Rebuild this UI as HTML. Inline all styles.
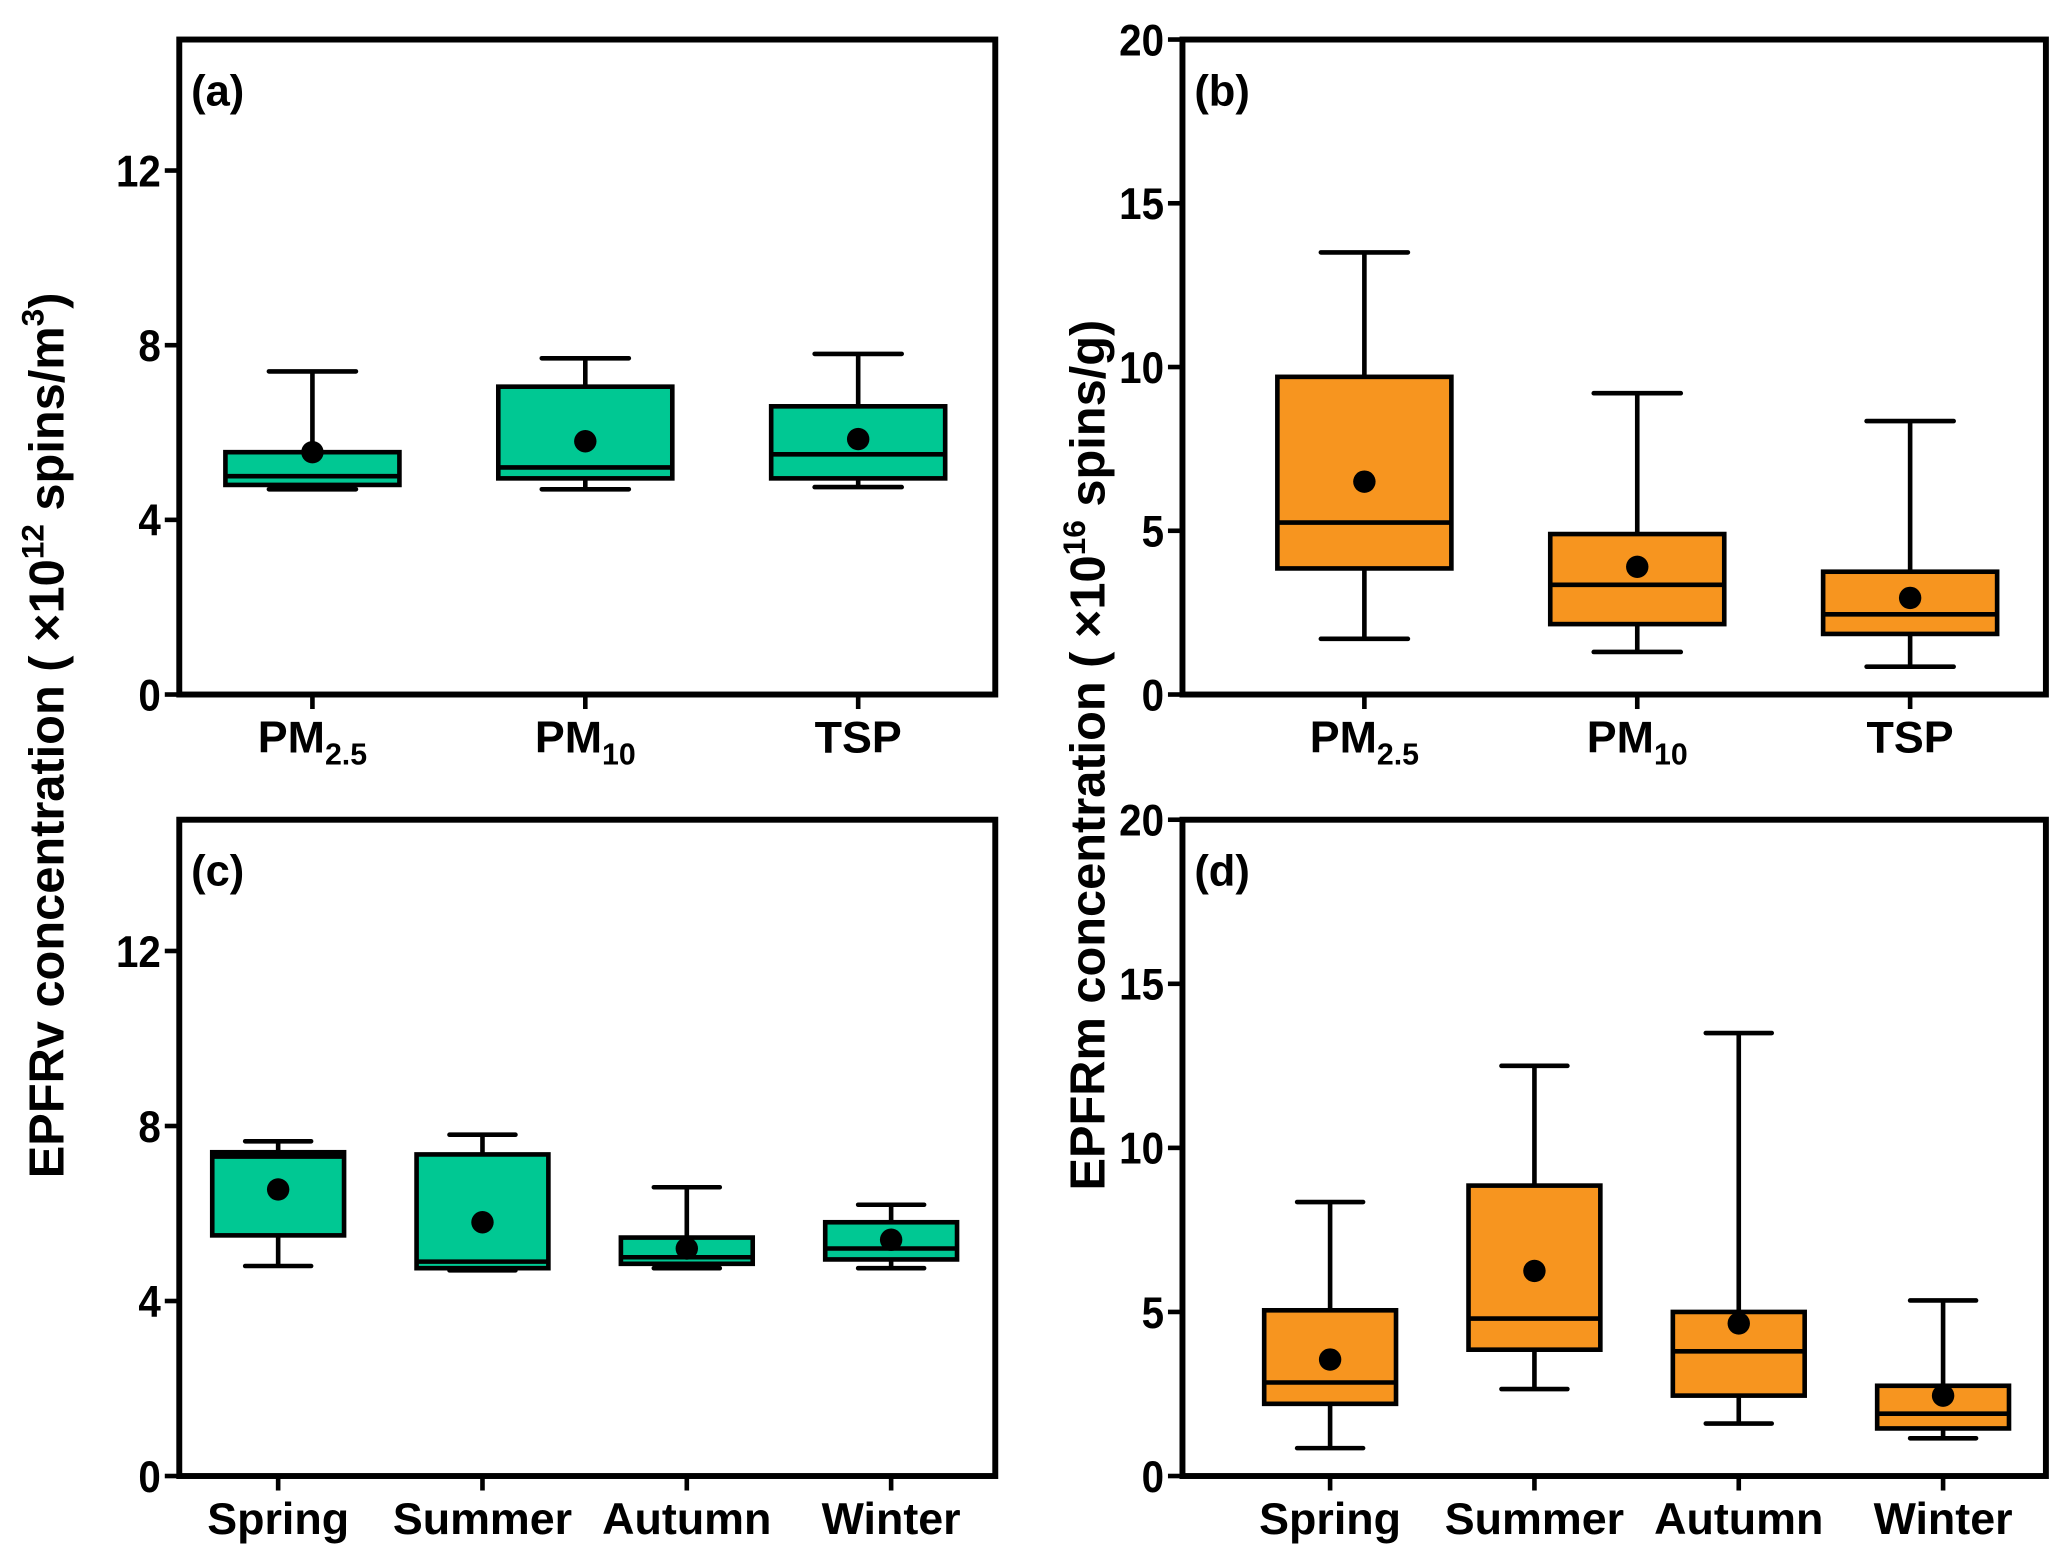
<!DOCTYPE html>
<html><head><meta charset="utf-8"><style>
html,body{margin:0;padding:0;background:#fff;}
svg{display:block;}
text{font-family:"Liberation Sans",sans-serif;font-weight:bold;fill:#000;}
.tk{font-size:34px;}
.cat{font-size:34px;}
.plab{font-size:33px;}
.yt{font-size:37px;}
</style></head><body>
<svg id="fig" width="2067" height="1563" viewBox="0 0 1568 1186" preserveAspectRatio="none" xmlns="http://www.w3.org/2000/svg">
<text class="yt" transform="translate(48,558) rotate(-90)" text-anchor="middle">EPFRv concentration ( ×10<tspan dy="-15" font-size="24">12</tspan><tspan dy="15"> spins/m</tspan><tspan dy="-15" font-size="24">3</tspan><tspan dy="15">)</tspan></text>
<text class="yt" transform="translate(838,573) rotate(-90)" text-anchor="middle">EPFRm concentration ( ×10<tspan dy="-15" font-size="24">16</tspan><tspan dy="15"> spins/g)</tspan></text>
</svg>
<script>
// Panel (a): EPFRv by particle size
const catsA = ["PM2.5","PM10","TSP"];
const lowA = [4.7,4.7,4.75];
const q1A = [4.8,4.95,4.95];
const medA = [5.0,5.2,5.5];
const q3A = [5.55,7.05,6.6];
const highA = [7.4,7.7,7.8];
const meanA = [5.55,5.8,5.85];
// Panel (b): EPFRm by particle size
const catsB = ["PM2.5","PM10","TSP"];
const lowB = [1.7,1.3,0.85];
const q1B = [3.85,2.15,1.85];
const medB = [5.25,3.35,2.45];
const q3B = [9.7,4.9,3.75];
const highB = [13.5,9.2,8.35];
const meanB = [6.5,3.9,2.95];
// Panel (c): EPFRv by season
const catsC = ["Spring","Summer","Autumn","Winter"];
const lowC = [4.8,4.7,4.75,4.75];
const q1C = [5.5,4.75,4.85,4.95];
const medC = [7.3,4.9,5.0,5.2];
const q3C = [7.4,7.35,5.45,5.8];
const highC = [7.65,7.8,6.6,6.2];
const meanC = [6.55,5.8,5.2,5.4];
// Panel (d): EPFRm by season
const catsD = ["Spring","Summer","Autumn","Winter"];
const lowD = [0.85,2.65,1.6,1.15];
const q1D = [2.2,3.85,2.45,1.45];
const medD = [2.85,4.8,3.8,1.9];
const q3D = [5.05,8.85,5.0,2.75];
const highD = [8.35,12.5,13.5,5.35];
const meanD = [3.55,6.25,4.65,2.45];
const ticksV = [0,4,8,12];
const ticksM = [0,5,10,15,20];

const NS="http://www.w3.org/2000/svg";
const svg=document.getElementById('fig');
function mk(tag,attrs,parent){const e=document.createElementNS(NS,tag);for(const k in attrs)e.setAttribute(k,attrs[k]);(parent||svg).appendChild(e);return e;}

function panel(o){
  const g=mk('g',{});
  
  
  const y=v=>o.y1-(v-0)/(o.ymax)*(o.y1-o.y0);
  const n=o.cats.length;
  const x=i=>o.cx[i];
  for(let i=0;i<n;i++){
    const bg=mk('g',{},g);
    
    
    const cx=x(i), hw=o.hw, cap=o.cap;
    mk('line',{x1:cx,x2:cx,y1:y(o.high[i]),y2:y(o.q3[i]),stroke:'#000','stroke-width':3.5},bg);
    mk('line',{x1:cx,x2:cx,y1:y(o.q1[i]),y2:y(o.low[i]),stroke:'#000','stroke-width':3.5},bg);
    mk('line',{x1:cx-cap,x2:cx+cap,y1:y(o.high[i]),y2:y(o.high[i]),stroke:'#000','stroke-width':3.5,'stroke-linecap':'round'},bg);
    mk('line',{x1:cx-cap,x2:cx+cap,y1:y(o.low[i]),y2:y(o.low[i]),stroke:'#000','stroke-width':3.5,'stroke-linecap':'round'},bg);
    mk('rect',{x:cx-hw,y:y(o.q3[i]),width:2*hw,height:y(o.q1[i])-y(o.q3[i]),fill:o.color,stroke:'#000','stroke-width':3.5},bg);
    mk('line',{x1:cx-hw,x2:cx+hw,y1:y(o.med[i]),y2:y(o.med[i]),stroke:'#000','stroke-width':3.5},bg);
    const c=mk('circle',{cx:cx,cy:y(o.mean[i]),r:8.5,fill:'#000'},bg);
    
    
  }
  const fr=mk('rect',{x:o.x0,y:o.y0,width:o.x1-o.x0,height:o.y1-o.y0,fill:'none',stroke:'#000','stroke-width':4.5},g);
  
  
  o.ticks.forEach(t=>{
    mk('line',{x1:o.x0-11,x2:o.x0,y1:y(t),y2:y(t),stroke:'#000','stroke-width':3.5},g);
    const tx=mk('text',{x:0,y:0,transform:'translate('+(o.x0-14)+','+(y(t)+12)+') scale(0.9,1)','text-anchor':'end',class:'tk'},g);
    tx.textContent=t;
    
    
  });
  for(let i=0;i<n;i++){
    mk('line',{x1:x(i),x2:x(i),y1:o.y1,y2:o.y1+11,stroke:'#000','stroke-width':3.5},g);
    const c=o.cats[i];
    const tx=mk('text',{x:x(i),y:o.y1+44,'text-anchor':'middle',class:'cat'},g);
    
    
    if(c==='PM2.5'){tx.innerHTML='PM<tspan dy="9" font-size="23">2.5</tspan>';}
    else if(c==='PM10'){tx.innerHTML='PM<tspan dy="9" font-size="23">10</tspan>';}
    else tx.textContent=c;
  }
  const pl=mk('text',{x:o.x0+9,y:o.y0+50,class:'plab'},g);
  pl.textContent='('+o.id+')';
  
  
}
const green='#00C893', orange='#F7951F';
panel({id:'a',x0:136,x1:755,y0:30,y1:527,ymax:15,ticks:ticksV,cats:catsA,cx:[237,444,651],hw:66,cap:33,color:green,low:lowA,q1:q1A,med:medA,q3:q3A,high:highA,mean:meanA});
panel({id:'b',x0:897,x1:1552,y0:30,y1:527,ymax:20,ticks:ticksM,cats:catsB,cx:[1035,1242,1449],hw:66,cap:33,color:orange,low:lowB,q1:q1B,med:medB,q3:q3B,high:highB,mean:meanB});
panel({id:'c',x0:136,x1:755,y0:622,y1:1120,ymax:15,ticks:ticksV,cats:catsC,cx:[211,366,521,676],hw:50,cap:25,color:green,low:lowC,q1:q1C,med:medC,q3:q3C,high:highC,mean:meanC});
panel({id:'d',x0:897,x1:1552,y0:622,y1:1120,ymax:20,ticks:ticksM,cats:catsD,cx:[1009,1164,1319,1474],hw:50,cap:25,color:orange,low:lowD,q1:q1D,med:medD,q3:q3D,high:highD,mean:meanD});
</script>
</body></html>
